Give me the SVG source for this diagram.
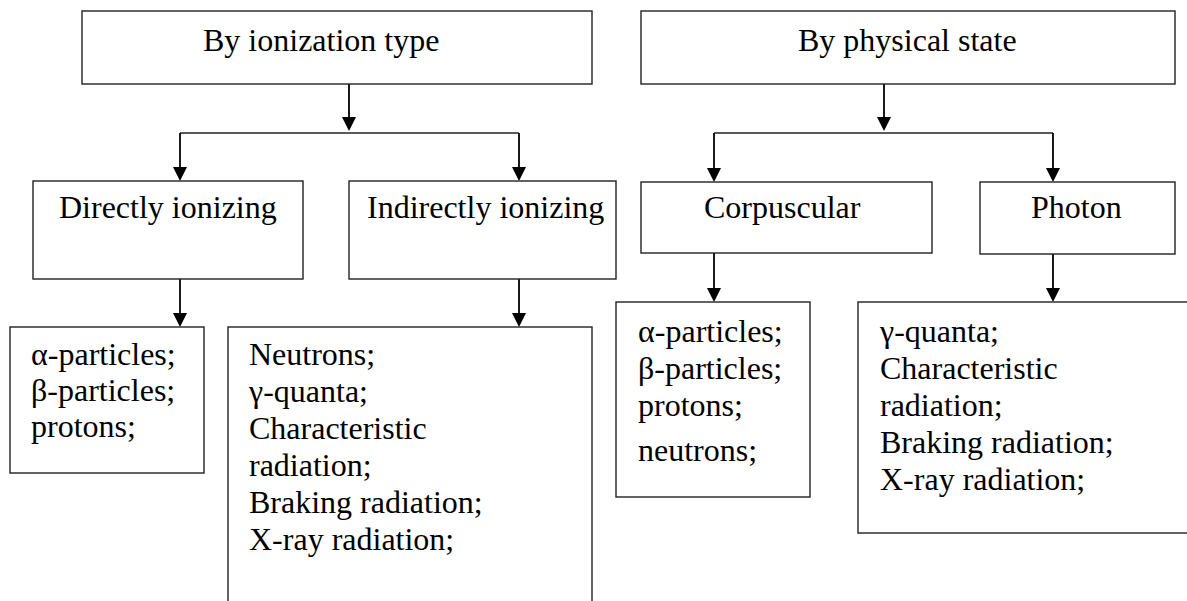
<svg xmlns="http://www.w3.org/2000/svg" width="1187" height="601" viewBox="0 0 1187 601">
<style>
.box{fill:#fff;stroke:#222;stroke-width:1.4}
.t{font-family:'Liberation Serif','Times New Roman',Times,'DejaVu Serif',serif;font-size:32px;fill:#000}
.c{stroke:#000;stroke-width:1.8;fill:none}
.h{stroke:#222;stroke-width:1.4;fill:none}
</style>
<defs>
<marker id="ah" markerUnits="userSpaceOnUse" markerWidth="14" markerHeight="14" refX="0" refY="7" orient="auto" viewBox="0 0 14 14">
<path d="M0,0 L14,7 L0,14 z" fill="#000"/>
</marker>
</defs>
<rect width="1187" height="601" fill="#fff"/>
<g id="connectors">
<line class="c" x1="349" y1="84" x2="349" y2="117" marker-end="url(#ah)"/>
<line class="h" x1="180" y1="133" x2="519" y2="133"/>
<line class="c" x1="180" y1="133" x2="180" y2="167" marker-end="url(#ah)"/>
<line class="c" x1="519" y1="133" x2="519" y2="167" marker-end="url(#ah)"/>
<line class="c" x1="180" y1="279" x2="180" y2="313" marker-end="url(#ah)"/>
<line class="c" x1="519" y1="279" x2="519" y2="313" marker-end="url(#ah)"/>
<line class="c" x1="884" y1="84" x2="884" y2="117" marker-end="url(#ah)"/>
<line class="h" x1="714" y1="133" x2="1053" y2="133"/>
<line class="c" x1="714" y1="133" x2="714" y2="168" marker-end="url(#ah)"/>
<line class="c" x1="1053" y1="133" x2="1053" y2="168" marker-end="url(#ah)"/>
<line class="c" x1="714" y1="253" x2="714" y2="288" marker-end="url(#ah)"/>
<line class="c" x1="1053" y1="254" x2="1053" y2="288" marker-end="url(#ah)"/>
</g>
<g id="n-ionization-type">
<rect class="box" x="82" y="11" width="510" height="73"/>
<text class="t" x="203" y="51" font-family="Liberation Serif, serif">By ionization type</text>
</g>
<g id="n-physical-state">
<rect class="box" x="641" y="11" width="534" height="73"/>
<text class="t" x="798" y="51">By physical state</text>
</g>
<g id="n-directly">
<rect class="box" x="33" y="181" width="270" height="98"/>
<text class="t" x="59" y="218">Directly ionizing</text>
</g>
<g id="n-indirectly">
<rect class="box" x="349" y="181" width="267" height="98"/>
<text class="t" x="367" y="218">Indirectly ionizing</text>
</g>
<g id="n-corpuscular">
<rect class="box" x="641" y="182" width="291" height="71"/>
<text class="t" x="704" y="218">Corpuscular</text>
</g>
<g id="n-photon">
<rect class="box" x="980" y="182" width="195" height="72"/>
<text class="t" x="1031" y="218">Photon</text>
</g>
<g id="n-direct-list">
<rect class="box" x="10" y="327" width="194" height="146"/>
<text class="t" x="31" y="365">α-particles;</text>
<text class="t" x="31" y="401">β-particles;</text>
<text class="t" x="31" y="437">protons;</text>
</g>
<g id="n-indirect-list">
<rect class="box" x="228" y="327" width="364" height="290"/>
<text class="t" x="249" y="365">Neutrons;</text>
<text class="t" x="249" y="402">γ-quanta;</text>
<text class="t" x="249" y="439">Characteristic</text>
<text class="t" x="249" y="476">radiation;</text>
<text class="t" x="249" y="513">Braking radiation;</text>
<text class="t" x="249" y="550">X-ray radiation;</text>
</g>
<g id="n-corpuscular-list">
<rect class="box" x="616" y="302" width="194" height="195"/>
<text class="t" x="638" y="342">α-particles;</text>
<text class="t" x="638" y="379">β-particles;</text>
<text class="t" x="638" y="416">protons;</text>
<text class="t" x="638" y="461">neutrons;</text>
</g>
<g id="n-photon-list">
<rect class="box" x="858" y="302" width="345" height="231"/>
<text class="t" x="880" y="342">γ-quanta;</text>
<text class="t" x="880" y="379">Characteristic</text>
<text class="t" x="880" y="416">radiation;</text>
<text class="t" x="880" y="453">Braking radiation;</text>
<text class="t" x="880" y="490">X-ray radiation;</text>
</g>
</svg>
